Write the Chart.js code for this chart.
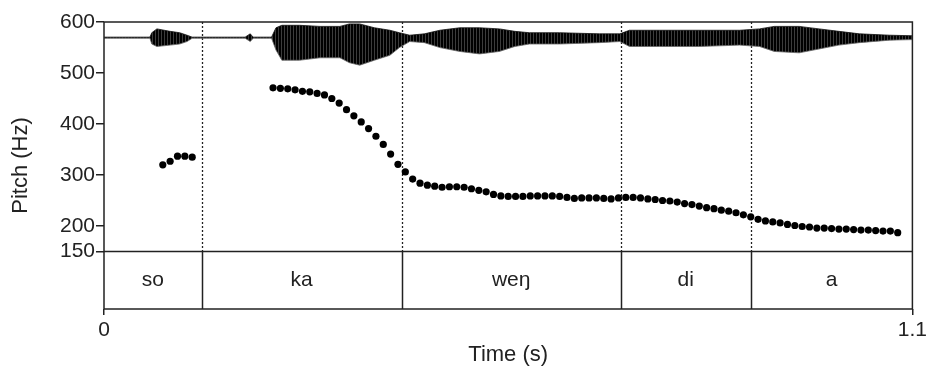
<!DOCTYPE html>
<html>
<head>
<meta charset="utf-8">
<script src="https://cdn.jsdelivr.net/npm/chart.js@4.4.1/dist/chart.umd.min.js"></script>
<style>
  html, body { margin: 0; padding: 0; background: #fff; }
  #wrap { width: 930px; height: 371px; }
</style>
</head>
<body>
<div id="wrap"><canvas id="pitchChart"></canvas></div>
<script>
// Pitch track (Hz) for the first syllable
const soTimes = [0.08, 0.09, 0.10, 0.11, 0.12];
const soPitch = [320, 327, 337, 337, 335];

// Pitch track (Hz) from "ka" to the end of the utterance, 10 ms frames
const pitchTimes = [
  0.23, 0.24, 0.25, 0.26, 0.27, 0.28, 0.29, 0.30, 0.31, 0.32,
  0.33, 0.34, 0.35, 0.36, 0.37, 0.38, 0.39, 0.40, 0.41, 0.42,
  0.43, 0.44, 0.45, 0.46, 0.47, 0.48, 0.49, 0.50, 0.51, 0.52,
  0.53, 0.54, 0.55, 0.56, 0.57, 0.58, 0.59, 0.60, 0.61, 0.62,
  0.63, 0.64, 0.65, 0.66, 0.67, 0.68, 0.69, 0.70, 0.71, 0.72,
  0.73, 0.74, 0.75, 0.76, 0.77, 0.78, 0.79, 0.80, 0.81, 0.82,
  0.83, 0.84, 0.85, 0.86, 0.87, 0.88, 0.89, 0.90, 0.91, 0.92,
  0.93, 0.94, 0.95, 0.96, 0.97, 0.98, 0.99, 1.00, 1.01, 1.02,
  1.03, 1.04, 1.05, 1.06, 1.07, 1.08
];
const pitchValues = [
  471, 470, 469, 467, 464, 463, 460, 457, 450, 441,
  428, 416, 404, 391, 376, 360, 341, 321, 306, 292,
  284, 280, 278, 276, 277, 277, 276, 273, 270, 267,
  262, 259, 258, 258, 258, 259, 259, 259, 259, 258,
  256, 254, 255, 255, 255, 254, 253, 255, 256, 256,
  255, 253, 252, 250, 249, 247, 244, 242, 239, 236,
  234, 231, 229, 226, 222, 218, 213, 210, 208, 206,
  203, 201, 199, 198, 196, 196, 195, 194, 194, 193,
  192, 192, 191, 190, 190, 187
];

// Waveform amplitude envelope (relative units), upper and lower edge
const waveTimes = [
  0, 0.0625, 0.065, 0.072, 0.09, 0.103, 0.113, 0.12, 0.192, 0.199,
  0.203, 0.228, 0.234, 0.242, 0.266, 0.294, 0.321, 0.334, 0.348, 0.368,
  0.389, 0.402, 0.416, 0.436, 0.457, 0.484, 0.511, 0.538, 0.559, 0.579,
  0.62, 0.674, 0.702, 0.715, 0.756, 0.81, 0.865, 0.892, 0.912, 0.946,
  0.973, 1.0, 1.028, 1.069, 1.1
];
const waveUpper = [
  0.02, 0.02, 0.18, 0.32, 0.23, 0.18, 0.09, 0.02, 0.02, 0.14,
  0.02, 0.02, 0.36, 0.45, 0.45, 0.41, 0.41, 0.50, 0.50, 0.36,
  0.27, 0.18, 0.09, 0.14, 0.27, 0.36, 0.36, 0.32, 0.23, 0.18,
  0.18, 0.14, 0.14, 0.27, 0.27, 0.27, 0.27, 0.32, 0.41, 0.41,
  0.32, 0.23, 0.14, 0.09, 0.07
];
const waveLower = [
  -0.02, -0.02, -0.23, -0.32, -0.27, -0.23, -0.14, -0.02, -0.02, -0.14,
  -0.02, -0.02, -0.45, -0.82, -0.82, -0.73, -0.73, -0.91, -1.00, -0.82,
  -0.64, -0.36, -0.14, -0.18, -0.36, -0.50, -0.59, -0.50, -0.32, -0.23,
  -0.23, -0.18, -0.14, -0.32, -0.32, -0.32, -0.27, -0.32, -0.50, -0.55,
  -0.41, -0.27, -0.18, -0.09, -0.07
];

// Syllable tier: interval boundaries (s) and labels
const tierBounds = [0, 0.133, 0.405, 0.703, 0.88, 1.1];
const tierLabels = ['so', 'ka', 'weŋ', 'di', 'a'];

const xTicks = [0, 1.1];
const yTicks = [150, 200, 300, 400, 500, 600];
const pitchFloor = 150;

const ink = '#222';
const fontFamily = '"Liberation Sans", Arial, Helvetica, sans-serif';

const canvas = document.getElementById('pitchChart');
const ctx = canvas.getContext('2d');

// vertical striped fill for the oscillogram
function stripes() {
  const c = document.createElement('canvas');
  c.width = 3; c.height = 4;
  const g = c.getContext('2d');
  g.fillStyle = '#000';
  g.fillRect(0, 0, 2, 4);
  g.fillStyle = '#3c3c3c';
  g.fillRect(2, 0, 1, 4);
  return ctx.createPattern(c, 'repeat');
}

const toPoints = (xs, ys) => xs.map((x, i) => ({ x: x, y: ys[i] }));

// frame, text tier and boundary lines
const praatFrame = {
  id: 'praatFrame',
  beforeDatasetsDraw(chart) {
    const { ctx, chartArea: a, scales: { x, y } } = chart;
    const yFloor = y.getPixelForValue(pitchFloor);
    ctx.save();
    ctx.strokeStyle = ink;
    ctx.lineWidth = 1.3;
    ctx.setLineDash([2, 2]);
    tierBounds.slice(1, -1).forEach(t => {
      const px = Math.round(x.getPixelForValue(t)) + 0.5;
      ctx.beginPath();
      ctx.moveTo(px, a.top);
      ctx.lineTo(px, yFloor);
      ctx.stroke();
    });
    ctx.restore();
  },
  afterDatasetsDraw(chart) {
    const { ctx, chartArea: a, scales: { x, y } } = chart;
    const yFloor = y.getPixelForValue(pitchFloor);
    ctx.save();
    ctx.strokeStyle = ink;
    ctx.lineWidth = 1.5;
    ctx.strokeRect(a.left, a.top, a.right - a.left, a.bottom - a.top);
    ctx.beginPath();
    ctx.moveTo(a.left, yFloor);
    ctx.lineTo(a.right, yFloor);
    tierBounds.slice(1, -1).forEach(t => {
      const px = Math.round(x.getPixelForValue(t)) + 0.5;
      ctx.moveTo(px, yFloor);
      ctx.lineTo(px, a.bottom);
    });
    ctx.stroke();

    ctx.fillStyle = ink;
    ctx.font = '21px ' + fontFamily;
    ctx.textAlign = 'center';
    ctx.textBaseline = 'middle';
    tierLabels.forEach((lab, i) => {
      const cx = (x.getPixelForValue(tierBounds[i]) + x.getPixelForValue(tierBounds[i + 1])) / 2;
      ctx.fillText(lab, cx, (yFloor + a.bottom) / 2);
    });
    ctx.restore();
  }
};

new Chart(ctx, {
  data: {
    datasets: [
      {
        type: 'line',
        data: toPoints(waveTimes, waveUpper),
        yAxisID: 'amp',
        borderColor: '#111',
        borderWidth: 0.8,
        pointRadius: 0,
        tension: 0,
        fill: false
      },
      {
        type: 'line',
        data: toPoints(waveTimes, waveLower),
        yAxisID: 'amp',
        borderColor: '#666',
        borderWidth: 0.8,
        pointRadius: 0,
        tension: 0,
        backgroundColor: stripes(),
        fill: '-1'
      },
      {
        type: 'scatter',
        data: toPoints(soTimes, soPitch),
        yAxisID: 'y',
        pointRadius: 3.6,
        pointBackgroundColor: '#000',
        pointBorderWidth: 0
      },
      {
        type: 'scatter',
        data: toPoints(pitchTimes, pitchValues),
        yAxisID: 'y',
        pointRadius: 3.6,
        pointBackgroundColor: '#000',
        pointBorderWidth: 0
      }
    ]
  },
  options: {
    responsive: true,
    maintainAspectRatio: false,
    animation: false,
    devicePixelRatio: 1,
    layout: { padding: { top: 22, right: 17, left: 0, bottom: 0 } },
    plugins: {
      legend: { display: false },
      tooltip: { enabled: false }
    },
    scales: {
      x: {
        type: 'linear',
        min: 0,
        max: 1.1,
        afterBuildTicks: s => { s.ticks = xTicks.map(v => ({ value: v })); },
        afterFit: s => { s.height = 62; },
        border: { display: false },
        grid: { drawOnChartArea: false, drawTicks: true, tickLength: 6, color: ink, lineWidth: 1.5 },
        ticks: {
          color: ink,
          font: { family: fontFamily, size: 21 },
          padding: 3,
          maxRotation: 0,
          callback: v => String(v)
        },
        title: {
          display: true,
          text: 'Time (s)',
          color: ink,
          font: { family: fontFamily, size: 22 },
          padding: { top: 0, bottom: 3 }
        }
      },
      y: {
        type: 'linear',
        position: 'left',
        min: 37.25,
        max: 600,
        afterBuildTicks: s => { s.ticks = yTicks.map(v => ({ value: v })); },
        afterFit: s => { s.width = 104; },
        border: { display: false },
        grid: { drawOnChartArea: false, drawTicks: true, tickLength: 8, color: ink, lineWidth: 1.5 },
        ticks: {
          color: ink,
          font: { family: fontFamily, size: 21 },
          padding: 1,
          callback: v => String(v)
        },
        title: {
          display: true,
          text: 'Pitch (Hz)',
          color: ink,
          font: { family: fontFamily, size: 22 },
          padding: { top: 8, bottom: 0 }
        }
      },
      amp: {
        type: 'linear',
        display: false,
        min: -9.86,
        max: 0.57
      }
    }
  },
  plugins: [praatFrame]
});
</script>
</body>
</html>
